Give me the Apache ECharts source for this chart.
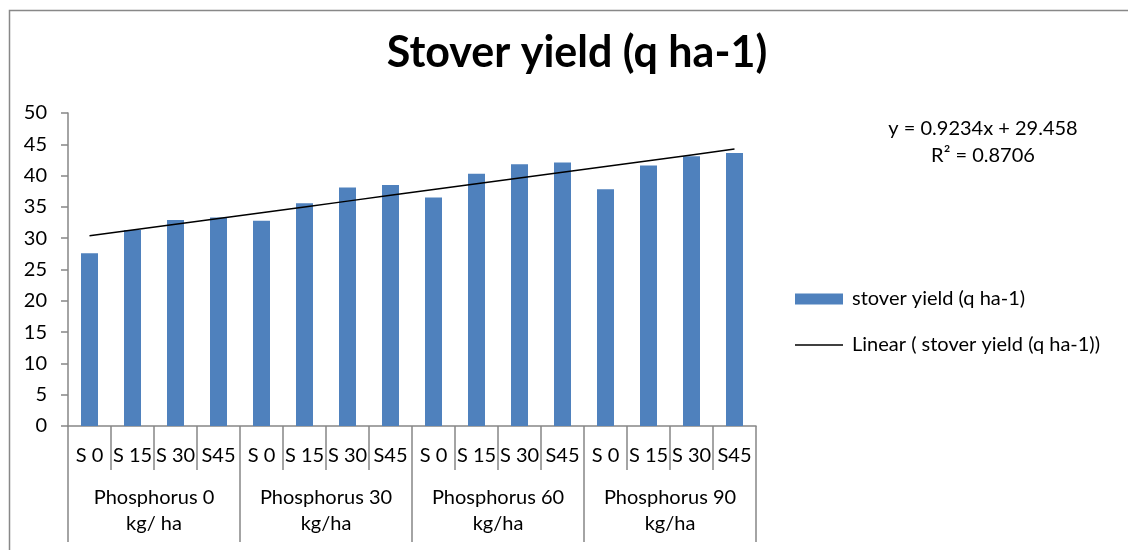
<!DOCTYPE html>
<html>
<head>
<meta charset="utf-8">
<script src="https://cdn.jsdelivr.net/npm/echarts@6/dist/echarts.min.js"></script>
<style>html,body{margin:0;padding:0;background:#fff}#c{width:1128px;height:550px}</style>
</head>
<body>
<div id="c"></div>
<script>
var subCategories = ['S 0','S 15','S 30','S45','S 0','S 15','S 30','S45','S 0','S 15','S 30','S45','S 0','S 15','S 30','S45'];
var groupCategories = ['Phosphorus 0\nkg/ ha','Phosphorus 30\nkg/ha','Phosphorus 60\nkg/ha','Phosphorus 90\nkg/ha'];
var stoverYield = [27.6,31.3,32.9,33.3, 32.8,35.6,38.1,38.5, 36.5,40.3,41.8,42.1, 37.8,41.6,43.1,43.6];
var yTicks = [0,5,10,15,20,25,30,35,40,45,50];
var trendSlope = 0.9234;
var trendIntercept = 29.458;
var rSquared = 0.8706;

var trend = stoverYield.map(function(v, i){ return +(trendSlope * (i + 1) + trendIntercept).toFixed(4); });

var FONT = 'Lato, "Open Sans", sans-serif';
var chart = echarts.init(document.getElementById('c'));
chart.setOption({
  animation: false,
  title: {
    text: 'Stover yield (q ha-1)',
    left: 577, top: 32, textAlign: 'center', padding: 0,
    textStyle: {fontFamily: FONT, fontSize: 43, fontWeight: 'bold', color: '#000'}
  },
  grid: {left: 68, right: 372, top: 113, bottom: 124, containLabel: false},
  legend: {
    orient: 'vertical', left: 795, top: 289, padding: 0, itemWidth: 48, itemHeight: 11, itemGap: 26,
    symbolKeepAspect: true,
    textStyle: {fontFamily: FONT, fontSize: 20, color: '#000', padding: [0,0,0,4]},
    data: [
      {name: 'stover yield (q ha-1)', icon: 'rect'},
      {name: 'Linear ( stover yield (q ha-1))', icon: 'path://M0,0 L48,0 L48,1.5 L0,1.5 Z'}
    ]
  },
  xAxis: [
    {
      type: 'category', data: subCategories, position: 'bottom',
      axisLine: {show: true, lineStyle: {color: '#868686', width: 1.5}},
      axisTick: {show: true, length: 44, lineStyle: {color: '#868686', width: 1.5}},
      axisLabel: {fontFamily: FONT, fontSize: 20, color: '#000', margin: 20, interval: 0}
    },
    {
      type: 'category', data: groupCategories, position: 'bottom',
      axisLine: {show: false},
      axisTick: {show: true, length: 116, lineStyle: {color: '#868686', width: 1.5}},
      axisLabel: {fontFamily: FONT, fontSize: 20, color: '#000', margin: 59, lineHeight: 26, interval: 0}
    }
  ],
  yAxis: {
    type: 'value', min: yTicks[0], max: yTicks[yTicks.length-1], interval: 5,
    axisLine: {show: true, lineStyle: {color: '#868686', width: 1.5}},
    axisTick: {show: true, length: 7, lineStyle: {color: '#868686', width: 1.5}},
    splitLine: {show: false},
    axisLabel: {fontFamily: FONT, fontSize: 20, color: '#000', margin: 21}
  },
  series: [
    {
      name: 'stover yield (q ha-1)', type: 'bar', xAxisIndex: 0, data: stoverYield,
      barWidth: 17, itemStyle: {color: '#4F81BD'}
    },
    {
      name: 'Linear ( stover yield (q ha-1))', type: 'line', xAxisIndex: 0, data: trend,
      symbol: 'none', lineStyle: {color: '#000', width: 1.5}, itemStyle: {color: '#000'}
    }
  ],
  graphic: [
    {type: 'rect', left: 7, top: 8, shape: {width: 1130, height: 600}, style: {fill: 'none', stroke: '#888', lineWidth: 1.5}, silent: true},
    {type: 'text', x: 983, y: 129, style: {text: 'y = ' + trendSlope + 'x + ' + trendIntercept, fontFamily: FONT, fontSize: 20, fill: '#000', textAlign: 'center', textVerticalAlign: 'middle'}},
    {type: 'text', x: 983, y: 156, style: {text: 'R² = ' + rSquared, fontFamily: FONT, fontSize: 20, fill: '#000', textAlign: 'center', textVerticalAlign: 'middle'}}
  ]
});
</script>
</body>
</html>
